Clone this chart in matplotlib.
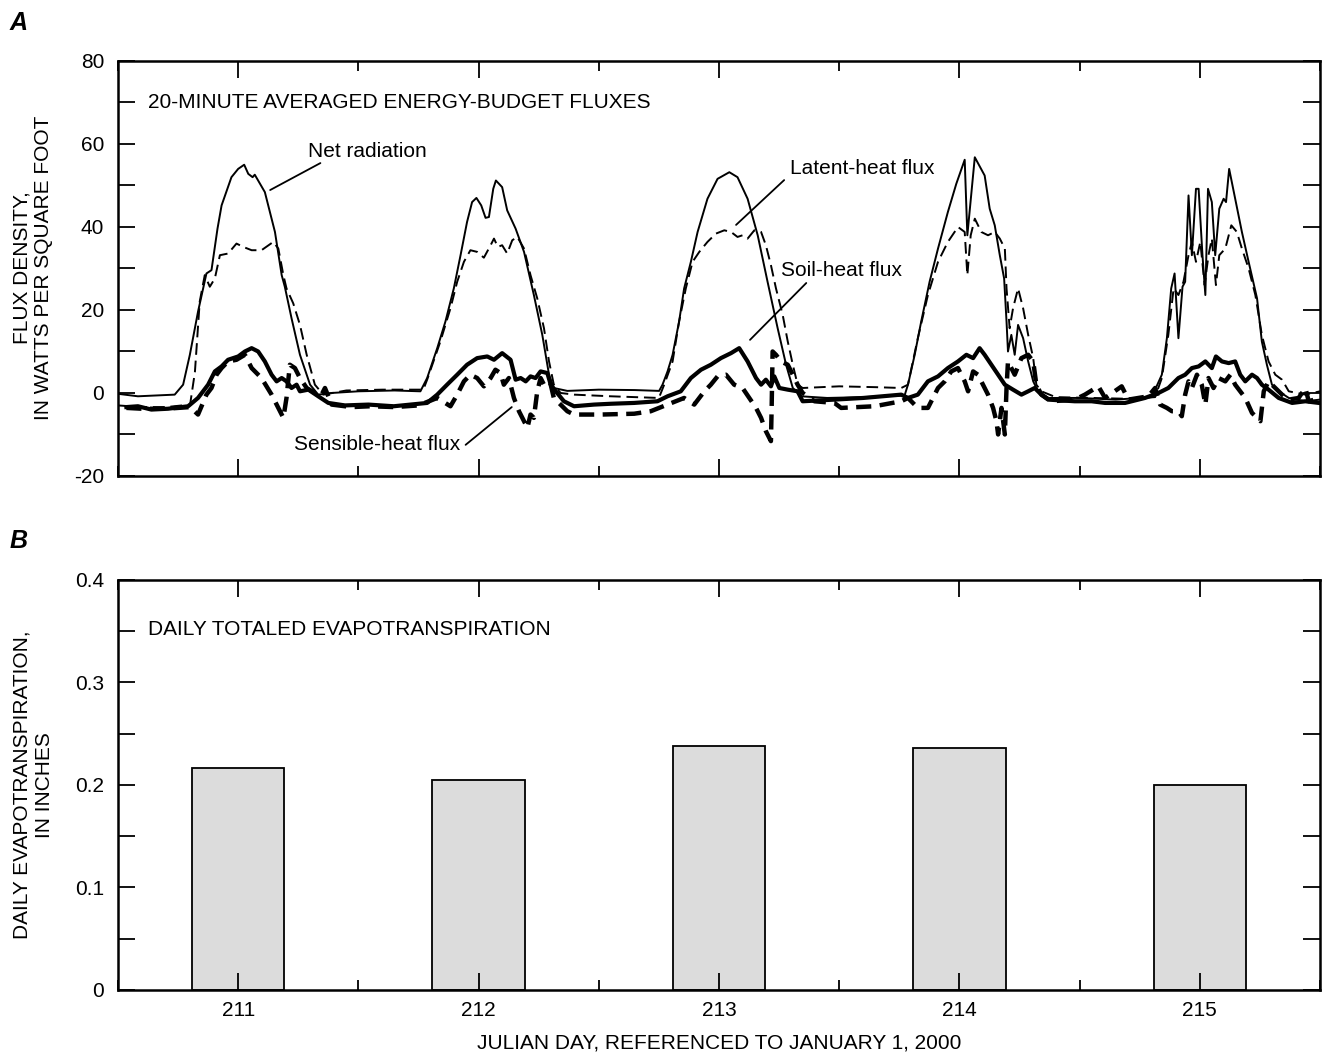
import matplotlib
matplotlib.use("Agg")
import matplotlib.pyplot as plt
from matplotlib.ticker import MultipleLocator

plt.rcParams['font.family'] = ['Liberation Sans', 'DejaVu Sans']
plt.rcParams['axes.unicode_minus'] = False

FS = 15

# ---- panel A: 20-minute fluxes (Julian day, W/ft2) ----
net_day = [210.5, 210.583, 210.736, 210.771, 210.799, 210.833, 210.868, 210.889, 210.914, 210.931,
           210.972, 211.0, 211.025, 211.042, 211.06, 211.069, 211.111, 211.153, 211.181, 211.194,
           211.222, 211.257, 211.299, 211.333, 211.389, 211.5, 211.65, 211.758, 211.786, 211.828,
           211.862, 211.897, 211.925, 211.952, 211.973, 211.991, 212.011, 212.029, 212.043, 212.061,
           212.072, 212.098, 212.119, 212.154, 212.189, 212.23, 212.265, 212.293, 212.313, 212.369,
           212.5, 212.65, 212.751, 212.765, 212.786, 212.807, 212.834, 212.855, 212.883, 212.911,
           212.952, 212.994, 213.043, 213.077, 213.119, 213.161, 213.202, 213.244, 213.279, 213.307,
           213.341, 213.45, 213.6, 213.772, 213.786, 213.814, 213.841, 213.876, 213.911, 213.952,
           213.987, 214.022, 214.033, 214.064, 214.105, 214.126, 214.147, 214.168, 214.186, 214.196,
           214.202, 214.216, 214.23, 214.244, 214.265, 214.286, 214.307, 214.327, 214.369, 214.5,
           214.65, 214.8, 214.842, 214.863, 214.881, 214.895, 214.911, 214.928, 214.939, 214.953,
           214.967, 214.984, 214.995, 215.011, 215.023, 215.034, 215.05, 215.064, 215.081, 215.099,
           215.109, 215.122, 215.147, 215.175, 215.203, 215.238, 215.258, 215.279, 215.3, 215.328,
           215.37, 215.439, 215.5]
net_rad = [-0.2, -0.8, -0.4, 2, 9.2, 19.6, 28.8, 29.6, 39.6, 45.2,
           52, 54, 55, 52.8, 52, 52.6, 48.4, 38.8, 28.4, 25.6,
           18, 9.2, 2, -0.4, 0, 0.4, 0.6, 0.4, 3.6, 10.8,
           17.2, 25.2, 33.2, 41.2, 46, 47, 45.2, 42.2, 42.4, 49.2,
           51.2, 49.6, 44, 39.6, 34, 23.6, 14, 4.4, 1.2, 0.5,
           0.8, 0.7, 0.5, 2, 5.2, 9.2, 17.2, 25.2, 31.6, 38.8,
           46.8, 51.6, 53.2, 52, 46.8, 38, 26.8, 15.6, 6.8, 1.2,
           -0.8, -1.2, -1.0, -0.6, 2, 9.2, 17.2, 26.8, 34.8, 43.6,
           50.4, 56.2, 38, 56.8, 52.4, 44.4, 40.4, 33.2, 27.6, 17.2,
           10, 14, 9.2, 16.4, 13.2, 7.6, 2.8, 0.4, -1.2, -1.2,
           -1.6, -1.0, 4.4, 13.2, 25.2, 28.8, 13.2, 25.6, 26.8, 47.6,
           33.2, 49.2, 49.2, 33.2, 23.6, 49.2, 46, 33.2, 44.4, 46.8,
           46, 54, 46.8, 38.8, 31.6, 22.8, 12.4, 6.8, 2, 0.4,
           -1.2, -2, -1.6]

lat_day = [210.5, 210.6, 210.7, 210.8, 210.82, 210.84, 210.861, 210.882, 210.903, 210.924,
           210.958, 210.993, 211.021, 211.056, 211.097, 211.146, 211.167, 211.188, 211.201, 211.229,
           211.257, 211.285, 211.319, 211.354, 211.45, 211.6, 211.77, 211.786, 211.841, 211.883,
           211.911, 211.939, 211.966, 211.994, 212.022, 212.05, 212.064, 212.08, 212.098, 212.119,
           212.14, 212.161, 212.189, 212.216, 212.244, 212.272, 212.293, 212.313, 212.341, 212.397,
           212.55, 212.75, 212.772, 212.807, 212.834, 212.862, 212.89, 212.918, 212.952, 212.987,
           213.022, 213.05, 213.077, 213.098, 213.119, 213.147, 213.175, 213.195, 213.216, 213.237,
           213.265, 213.286, 213.307, 213.327, 213.348, 213.5, 213.65, 213.758, 213.786, 213.827,
           213.869, 213.911, 213.952, 213.994, 214.022, 214.033, 214.047, 214.064, 214.091, 214.119,
           214.147, 214.168, 214.189, 214.196, 214.209, 214.223, 214.244, 214.265, 214.286, 214.307,
           214.32, 214.341, 214.4, 214.55, 214.7, 214.814, 214.842, 214.869, 214.891, 214.911,
           214.932, 214.953, 214.967, 214.984, 215.002, 215.02, 215.036, 215.05, 215.067, 215.081,
           215.106, 215.131, 215.154, 215.175, 215.203, 215.231, 215.258, 215.286, 215.314, 215.342,
           215.37, 215.439, 215.5]
latent = [-3.0, -3.4, -3.4, -2.8, 5, 22, 28.4, 25.6, 27.6, 33.2,
          33.6, 36, 35.2, 34.4, 34.4, 36.4, 34.8, 28.4, 25.2, 21.6,
          16.4, 9.2, 2, -0.4, 0.6, 0.8, 0.8, 3.2, 12.4, 20.4,
          26.8, 31.6, 34.4, 34, 32.6, 35.6, 37.2, 35.2, 35.6, 33.6,
          36.8, 37.6, 34.8, 28.4, 22.8, 15.6, 7.6, 2, 0, -0.4,
          -0.8, -1.2, 2, 7.6, 17.2, 25.2, 31.6, 34, 36.4, 38.4,
          39.2, 38.8, 37.6, 38, 37.2, 39.2, 38.8, 35.6, 30.8, 25.2,
          18.8, 12.4, 6.8, 2, 1.2, 1.6, 1.4, 1.2, 2, 13.2,
          23.6, 31.6, 36.4, 40, 38.8, 28.4, 38, 42, 38.8, 38,
          38.8, 37.2, 34.8, 25.2, 15.6, 20.4, 25.2, 20.4, 14, 8.4,
          2, 0.4, -1, -1.2, -1.4, -1.0, 3.6, 14, 25.2, 23.6,
          26.8, 33.2, 36.4, 31.6, 36.4, 26, 33.2, 37.2, 26, 33.2,
          34.8, 40.4, 38.8, 34.8, 30, 23.6, 14, 7.6, 4.4, 3.2,
          0.4, -0.4, 0.4]

soil_day = [210.535, 210.583, 210.639, 210.708, 210.792, 210.833, 210.875, 210.903, 210.931, 210.958,
            211.0, 211.028, 211.056, 211.083, 211.111, 211.139, 211.16, 211.181, 211.201, 211.222,
            211.243, 211.257, 211.292, 211.333, 211.375, 211.444, 211.542, 211.647, 211.786, 211.828,
            211.869, 211.911, 211.952, 211.994, 212.036, 212.064, 212.098, 212.133, 212.154, 212.175,
            212.196, 212.216, 212.237, 212.258, 212.286, 212.3, 212.321, 212.355, 212.397, 212.48,
            212.55, 212.647, 212.744, 212.786, 212.841, 212.883, 212.925, 212.966, 213.008, 213.05,
            213.084, 213.119, 213.154, 213.175, 213.195, 213.216, 213.23, 213.251, 213.286, 213.327,
            213.348, 213.48, 213.6, 213.758, 213.786, 213.827, 213.869, 213.911, 213.952, 213.994,
            214.029, 214.057, 214.084, 214.105, 214.133, 214.161, 214.189, 214.223, 214.258, 214.286,
            214.313, 214.341, 214.369, 214.48, 214.55, 214.606, 214.689, 214.772, 214.828, 214.869,
            214.911, 214.939, 214.967, 214.995, 215.023, 215.05, 215.067, 215.092, 215.12, 215.147,
            215.168, 215.189, 215.217, 215.238, 215.258, 215.286, 215.328, 215.384, 215.439, 215.495]
soil = [-3.4, -3.2, -4, -3.8, -3.2, -1.2, 2, 5.2, 6.4, 8,
        8.8, 10, 10.8, 10, 7.6, 4.4, 2.8, 3.6, 2.8, 1.2,
        2, 0.4, 0.8, -0.8, -2.4, -3, -2.8, -3.2, -2.4, -0.4,
        2, 4.4, 6.8, 8.4, 8.8, 8, 9.6, 8, 3.2, 3.6,
        2.8, 4, 3.6, 5.2, 4.8, 2, 0.4, -2, -3.2, -2.8,
        -2.6, -2.4, -2, -0.8, 0.4, 3.6, 5.6, 6.8, 8.4, 9.6,
        10.8, 7.6, 3.6, 2, 3.2, 1.6, 4, 1.2, 0.8, 0.4,
        -2, -1.6, -1.2, -0.4, -1.2, -0.4, 2.8, 4, 6, 7.6,
        9.2, 8.4, 10.8, 9.2, 6.8, 4.4, 2, 0.8, -0.4, 0.4,
        1.2, -0.4, -1.6, -2, -2, -2.4, -2.4, -1.2, 0, 1.2,
        3.6, 4.4, 6, 6.4, 7.6, 6, 8.8, 7.6, 7.2, 7.6,
        4.4, 2.8, 4.4, 3.6, 2, 0.8, -1.2, -2.4, -2, -2.4]

sens_day = [210.535, 210.6, 210.7, 210.8, 210.833, 210.868, 210.889, 210.91, 210.931, 210.958,
            210.993, 211.028, 211.056, 211.097, 211.139, 211.167, 211.188, 211.201, 211.215, 211.236,
            211.257, 211.285, 211.319, 211.347, 211.361, 211.389, 211.472, 211.55, 211.65, 211.75,
            211.828, 211.883, 211.911, 211.939, 211.966, 211.994, 212.022, 212.05, 212.07, 212.091,
            212.105, 212.126, 212.147, 212.168, 212.189, 212.203, 212.216, 212.23, 212.244, 212.258,
            212.279, 212.3, 212.313, 212.341, 212.369, 212.397, 212.45, 212.508, 212.647, 212.716,
            212.786, 212.855, 212.897, 212.939, 212.966, 212.994, 213.029, 213.063, 213.098, 213.126,
            213.154, 213.175, 213.195, 213.216, 213.219, 213.223, 213.237, 213.258, 213.286, 213.307,
            213.327, 213.348, 213.397, 213.48, 213.508, 213.647, 213.758, 213.786, 213.827, 213.869,
            213.911, 213.939, 213.966, 213.994, 214.022, 214.036, 214.057, 214.077, 214.098, 214.119,
            214.14, 214.154, 214.161, 214.175, 214.189, 214.196, 214.202, 214.23, 214.258, 214.286,
            214.307, 214.32, 214.341, 214.383, 214.48, 214.522, 214.578, 214.606, 214.675, 214.703,
            214.786, 214.814, 214.835, 214.863, 214.884, 214.911, 214.925, 214.939, 214.953, 214.967,
            214.988, 215.008, 215.023, 215.036, 215.057, 215.078, 215.106, 215.127, 215.147, 215.168,
            215.189, 215.217, 215.238, 215.252, 215.266, 215.286, 215.314, 215.342, 215.37, 215.411,
            215.439, 215.453, 215.5]
sensible = [-3.6, -3.8, -3.8, -3.4, -5.2, -0.4, 1.2, 4.4, 6, 7.6,
            8, 9.2, 6, 3.6, -0.4, -3.6, -6, -1.2, 6.8, 6,
            3.6, 1.2, 0, -0.4, 1.2, -2.8, -3.4, -3.2, -3.4, -3.0,
            -1.2, -3.2, -0.4, 2.8, 4.4, 3.6, 1.6, 3.6, 5.6, 4.8,
            2, 3.6, -1.2, -4.4, -6.8, -8.4, -5.2, -6, 0.4, 3.6,
            1.2, 2, -1.2, -2.8, -4.4, -5.2, -5.2, -5.2, -5, -4.4,
            -2.8, -1.2, -2.8, 0.4, 2, 4, 4.4, 2, 1.2, -1.2,
            -3.6, -6, -9.2, -11.6, -3.6, 10, 9.2, 7.6, 6.8, 4.4,
            2, 0, -2, -2.4, -3.6, -3.2, -2, -1.2, -3.6, -3.6,
            1.2, 2.8, 5.2, 6, 2.8, 0.4, 5.2, 4.4, 2, -0.4,
            -3.6, -6.8, -10, -3.6, -10, 1.2, 7.6, 4.4, 8.4, 9.2,
            7.6, 2, -0.4, -2, -1.6, -0.4, 1.6, -1.2, 1.6, -1.6,
            -0.8, 1.2, -2.8, -3.6, -4.4, -4.4, -5.6, -0.4, 2.8, 1.2,
            4.4, 2, -2.8, 3.6, 1.2, 3.6, 2.8, 4.4, 2, 0.4,
            -1.2, -4.8, -6, -6.8, 0.4, 2.8, 1.2, -0.4, -1.6, -1.2,
            1.2, -2, -1.2]

# ---- panel B: daily totals ----
days = [211, 212, 213, 214, 215]
et_inches = [0.217, 0.205, 0.238, 0.236, 0.200]

fig = plt.figure(figsize=(13.24, 10.57), dpi=100)
ax1 = fig.add_axes([0.0891, 0.5497, 0.9079, 0.3926])
ax2 = fig.add_axes([0.0891, 0.0634, 0.9079, 0.3879])

ax1.plot(net_day, net_rad, color='black', lw=1.4)
ax1.plot(lat_day, latent, color='black', lw=1.4, linestyle=(0, (6, 3)))
ax1.plot(soil_day, soil, color='black', lw=3.0)
ax1.plot(sens_day, sensible, color='black', lw=3.2, linestyle=(0, (3.4, 1.9)))

ax1.set_xlim(210.5, 215.5)
ax1.set_ylim(-20, 80)
ax1.set_yticks([-20, 0, 20, 40, 60, 80])
ax1.yaxis.set_minor_locator(MultipleLocator(10))
ax1.tick_params(labelbottom=False)

ax1.text(210.625, 70, '20-MINUTE AVERAGED ENERGY-BUDGET FLUXES', fontsize=FS, va='center')

# labels with leader lines
lead = dict(arrowstyle='-', lw=1.3, color='black', shrinkA=0, shrinkB=0)
ax1.annotate('', xy=(211.133, 48.9), xytext=(211.342, 55.4), arrowprops=lead)
ax1.text(211.292, 58.3, 'Net radiation', fontsize=FS, va='center')
ax1.annotate('', xy=(213.071, 40.5), xytext=(213.271, 51.3), arrowprops=lead)
ax1.text(213.296, 54.2, 'Latent-heat flux', fontsize=FS, va='center')
ax1.annotate('', xy=(213.129, 12.8), xytext=(213.363, 26.5), arrowprops=lead)
ax1.text(213.258, 29.6, 'Soil-heat flux', fontsize=FS, va='center')
ax1.annotate('', xy=(212.138, -3.4), xytext=(211.946, -12.5), arrowprops=lead)
ax1.text(211.925, -12.5, 'Sensible-heat flux', fontsize=FS, va='center', ha='right')

ax2.bar(days, et_inches, width=0.385, color='#dcdcdc', edgecolor='black', linewidth=1.3)
ax2.set_xlim(210.5, 215.5)
ax2.set_ylim(0, 0.4)
ax2.set_yticks([0, 0.1, 0.2, 0.3, 0.4])
ax2.set_yticklabels(['0', '0.1', '0.2', '0.3', '0.4'])
ax2.yaxis.set_minor_locator(MultipleLocator(0.05))
ax2.text(210.625, 0.352, 'DAILY TOTALED EVAPOTRANSPIRATION', fontsize=FS, va='center')

for ax in (ax1, ax2):
    ax.set_xticks(days)
    ax.xaxis.set_minor_locator(MultipleLocator(0.5))
    for s in ax.spines.values():
        s.set_linewidth(1.8)
    ax.tick_params(which='both', direction='in', top=True, right=True, width=1.3, labelsize=FS)
    ax.tick_params(axis='y', which='both', length=12, pad=10)
    ax.tick_params(axis='x', which='major', length=12, pad=8)
    ax.tick_params(axis='x', which='minor', length=7)

fig.text(10 / 1324, 1 - 30 / 1057, 'A', fontsize=18, fontweight='bold', style='italic', va='baseline')
fig.text(10 / 1324, 1 - 548 / 1057, 'B', fontsize=18, fontweight='bold', style='italic', va='baseline')

fig.text(33 / 1324, 1 - 268 / 1057, 'FLUX DENSITY,\nIN WATTS PER SQUARE FOOT', rotation=90,
         ha='center', va='center', fontsize=FS, multialignment='center', linespacing=1.2)
fig.text(33 / 1324, 1 - 785 / 1057, 'DAILY EVAPOTRANSPIRATION,\nIN INCHES', rotation=90,
         ha='center', va='center', fontsize=FS, multialignment='center', linespacing=1.2)
fig.text(719 / 1324, 1 - 1043 / 1057, 'JULIAN DAY, REFERENCED TO JANUARY 1, 2000',
         ha='center', va='center', fontsize=FS)

fig.savefig('out.png', dpi=100)
